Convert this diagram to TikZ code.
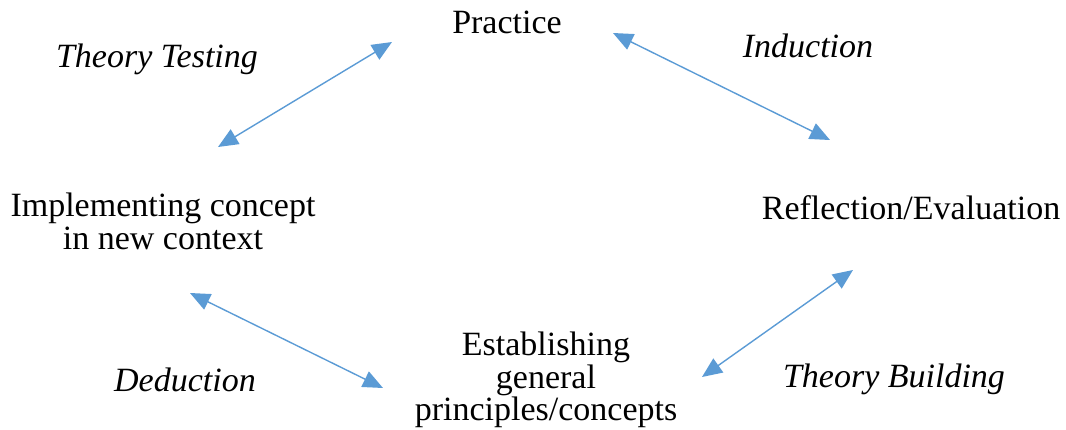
\documentclass[tikz,border=0pt]{standalone}
\usepackage{fontspec}
\setmainfont{Liberation Serif}
\usetikzlibrary{arrows.meta}
\definecolor{arrowblue}{HTML}{5B9BD5}
\begin{document}
\begin{tikzpicture}[x=1pt,y=-1pt,
  label/.style={inner sep=0pt,font=\fontsize{34}{33}\selectfont,align=center},
  mode/.style={label,font=\fontsize{34}{33}\selectfont\itshape},
  link/.style={draw=arrowblue,line width=1.4pt,
    {Triangle[length=20pt,width=17pt,fill=arrowblue]}-{Triangle[length=20pt,width=17pt,fill=arrowblue]}}]
\useasboundingbox (0,0) rectangle (1066,429);

% stages of the cycle
\node[label,anchor=base] (practice) at (507,33) {Practice};
\node[label,anchor=base] (reflect) at (911,219) {Reflection/Evaluation};
\node[label,anchor=north,font=\fontsize{34}{32.5}\selectfont] (establish) at (546,332) {Establishing\\general\\principles/concepts};
\node[label,anchor=north] (implement) at (163,193) {Implementing concept\\in new context};

% modes of reasoning
\node[mode,anchor=base] (testing) at (157,67) {Theory Testing};
\node[mode,anchor=base] (induction) at (808,57) {Induction};
\node[mode,anchor=base] (building) at (894,387) {Theory Building};
\node[mode,anchor=base] (deduction) at (185,391) {Deduction};

% arrow end points
\coordinate (tl1) at (218,147);
\coordinate (tl2) at (392,42);
\coordinate (tr1) at (613,33);
\coordinate (tr2) at (830,140);
\coordinate (bl1) at (190,293);
\coordinate (bl2) at (383,388);
\coordinate (br1) at (853,270);
\coordinate (br2) at (702,377);

\draw[link] (tl1) -- (tl2);
\draw[link] (tr1) -- (tr2);
\draw[link] (bl1) -- (bl2);
\draw[link] (br1) -- (br2);
\end{tikzpicture}
\end{document}
